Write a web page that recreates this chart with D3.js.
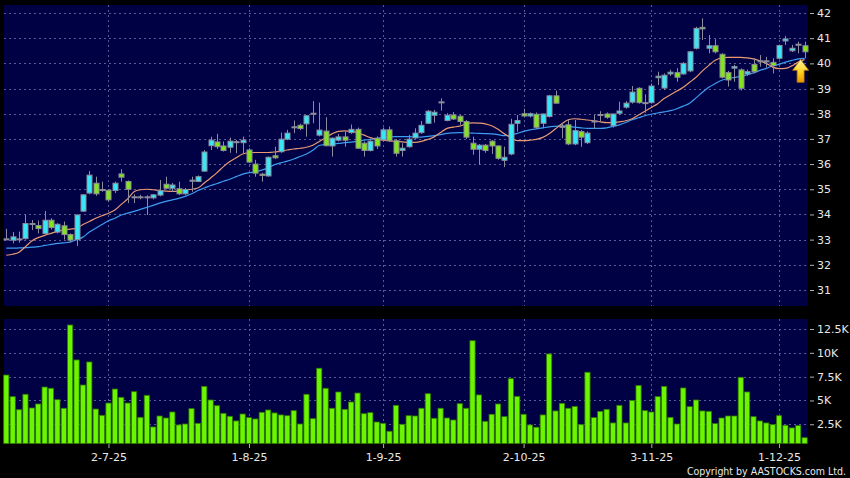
<!DOCTYPE html>
<html>
<head>
<meta charset="utf-8">
<script src="https://cdn.jsdelivr.net/npm/d3@7"></script>
<style>
  html, body { margin: 0; padding: 0; background: #000; }
  svg { display: block; }
</style>
</head>
<body>
<div id="chart-mount"></div>
<script>
// daily candles, oldest first
var OPEN = [33.03,32.98,33.03,33.04,33.64,33.56,33.24,33.77,33.30,33.55,33.20,33.00,34.13,34.85,35.24,34.99,34.96,34.95,35.61,35.31,
  34.70,34.70,34.70,34.66,34.77,35.20,35.04,35.02,34.82,35.36,35.31,35.72,36.73,36.88,36.72,36.67,36.89,36.85,36.56,36.00,
  35.60,35.53,36.33,36.49,36.99,37.48,37.54,37.60,38.02,37.15,37.31,36.72,36.95,37.08,37.25,37.38,36.83,36.54,37.03,36.96,
  37.36,36.93,36.54,36.69,37.04,37.25,37.62,37.94,38.47,37.73,37.95,37.90,37.69,36.83,36.59,36.75,36.91,36.72,36.15,36.40,
  37.62,38.00,37.91,37.98,37.62,37.89,38.71,37.50,37.56,36.80,37.29,36.85,37.71,37.97,37.99,37.52,38.02,38.26,38.46,39.01,
  38.44,38.44,39.43,39.02,39.58,39.63,39.58,39.70,40.60,41.43,40.60,40.70,40.36,39.63,39.81,39.74,39.58,39.96,40.10,40.10,
  40.04,40.20,40.89,40.50,40.76,40.70];
var HIGH = [33.43,33.30,33.32,34.00,33.78,33.76,34.14,33.85,33.65,33.72,33.25,34.00,34.80,35.73,35.50,35.30,35.00,35.30,35.80,35.35,
  34.80,34.78,34.76,34.80,35.37,35.50,35.25,35.30,35.05,35.50,35.55,36.56,37.09,37.20,36.90,37.05,36.96,37.09,36.63,36.17,
  35.65,36.30,36.69,37.25,37.36,37.73,37.60,37.95,38.50,38.44,37.86,37.05,37.20,37.29,37.57,37.45,36.90,36.95,37.10,37.45,
  37.49,37.00,36.83,37.16,37.42,37.71,38.15,38.15,38.61,38.02,38.07,37.95,37.75,37.09,36.80,36.80,36.95,36.75,36.69,37.80,
  37.95,38.20,38.05,38.05,38.00,38.75,38.92,37.62,37.75,37.75,37.35,37.30,37.95,38.10,38.05,38.00,38.48,38.50,39.10,39.05,
  38.77,39.20,39.67,39.60,39.75,39.81,40.05,40.50,41.45,41.79,41.13,40.96,40.40,39.70,39.94,39.80,39.75,40.20,40.33,40.26,
  40.20,40.75,41.09,40.73,40.86,40.86];
var LOW = [33.00,32.85,32.88,33.00,33.38,33.25,33.20,33.40,33.25,33.00,32.90,32.75,34.10,34.80,34.74,34.90,34.50,34.85,35.30,34.45,
  34.45,34.60,33.98,34.60,34.72,35.00,34.90,34.77,34.78,34.90,35.28,35.70,36.56,36.60,36.50,36.45,36.43,36.43,36.05,35.50,
  35.30,35.50,36.20,36.45,36.95,37.23,37.35,37.09,37.62,37.10,36.70,36.30,36.90,36.69,37.20,36.60,36.30,36.50,36.60,36.90,
  36.89,36.30,36.30,36.65,37.00,37.20,37.60,37.65,38.12,37.70,37.75,37.56,37.00,36.37,35.97,36.45,36.40,36.17,35.88,36.35,
  37.29,37.85,37.85,37.40,37.42,37.85,38.40,37.03,36.75,36.75,36.69,36.80,37.40,37.70,37.80,37.45,37.95,38.20,38.40,38.40,
  38.04,38.40,39.14,38.95,39.50,39.27,39.55,39.65,40.55,40.93,40.40,40.40,39.40,39.08,39.27,38.92,39.50,39.60,39.87,39.83,
  39.60,40.15,40.73,40.45,40.40,40.20];
var CLOSE = [33.03,33.11,33.03,33.64,33.64,33.44,33.77,33.48,33.61,33.20,32.98,33.98,34.78,35.56,34.82,34.99,34.58,35.24,35.48,35.00,
  34.70,34.70,34.70,34.78,34.95,35.04,35.17,34.82,34.99,35.36,35.50,36.48,36.95,36.69,36.54,36.91,36.89,36.95,36.08,35.64,
  35.55,36.27,36.25,36.99,37.23,37.48,37.41,37.92,38.02,37.35,36.73,37.03,37.08,36.95,37.38,36.63,36.54,36.91,36.72,37.36,
  36.93,36.43,36.63,36.99,37.23,37.54,38.10,38.06,38.47,37.94,37.79,37.69,37.07,36.59,36.75,36.54,36.72,36.23,36.27,37.58,
  37.73,37.91,38.00,37.46,37.99,38.71,38.42,37.50,36.80,37.33,37.07,37.23,37.71,37.97,37.86,37.99,38.11,38.42,38.86,38.44,
  38.44,39.10,39.49,39.53,39.65,39.45,40.00,40.46,41.39,41.37,40.70,40.46,39.45,39.34,39.87,39.01,39.67,39.67,40.10,40.10,
  39.91,40.71,40.97,40.60,40.76,40.46];
// volume in thousands of shares
var VOLUME_K = [7.67,5.40,4.03,5.65,4.21,4.63,6.41,6.28,5.08,4.18,12.92,9.25,6.62,9.04,4.10,3.44,4.73,6.20,5.33,4.73,
  5.92,3.23,5.54,2.22,3.37,3.16,3.79,2.43,2.53,4.14,2.60,6.48,5.05,4.45,3.65,3.34,2.85,3.58,3.20,3.06,
  3.76,4.00,3.69,3.48,3.40,3.93,2.53,5.65,3.09,8.38,6.28,4.18,5.89,4.07,4.84,5.78,3.61,3.72,2.74,2.60,
  1.77,4.49,2.50,3.40,3.37,4.18,5.71,3.13,4.18,3.16,2.95,4.66,4.18,11.27,5.58,2.81,3.55,4.63,3.30,7.29,
  5.43,3.55,2.43,2.19,3.48,9.88,3.90,4.70,4.18,4.38,2.46,7.96,3.20,3.86,4.07,2.64,4.49,2.64,5.01,6.58,
  3.93,3.79,5.40,6.48,3.23,2.53,6.31,4.35,5.05,3.90,3.86,2.57,3.16,3.37,3.37,7.43,5.89,3.30,2.85,2.64,
  2.46,3.40,2.40,2.12,2.36,1.09];
// moving-average lines as drawn on the chart
var MA10 = [32.38,32.42,32.50,32.72,32.95,33.08,33.17,33.25,33.33,33.38,33.42,33.45,33.60,33.72,33.85,33.95,34.05,34.18,34.40,34.62,
  34.90,34.98,35.00,34.98,34.95,34.93,34.92,34.93,34.96,35.00,35.05,35.25,35.45,35.66,35.90,36.10,36.25,36.40,36.45,36.46,
  36.46,36.46,36.48,36.52,36.56,36.60,36.63,36.67,36.75,36.90,37.05,37.20,37.30,37.32,37.30,37.25,37.15,37.05,36.98,36.95,
  36.92,36.90,36.88,36.86,36.86,36.90,36.98,37.08,37.25,37.42,37.47,37.51,37.60,37.64,37.63,37.60,37.52,37.38,37.20,37.05,
  36.93,36.93,36.95,36.98,37.06,37.20,37.40,37.60,37.76,37.80,37.78,37.75,37.72,37.68,37.65,37.65,37.68,37.72,37.80,37.95,
  38.10,38.25,38.40,38.60,38.75,38.90,39.05,39.25,39.45,39.70,39.92,40.12,40.22,40.24,40.24,40.24,40.22,40.18,40.10,40.00,
  39.85,39.79,39.80,39.90,40.05,40.15];
var MA20 = [32.66,32.66,32.67,32.68,32.70,32.72,32.77,32.81,32.85,32.87,32.90,33.00,33.10,33.30,33.45,33.60,33.75,33.85,33.98,34.05,
  34.12,34.20,34.28,34.36,34.45,34.52,34.58,34.64,34.72,34.82,34.95,35.05,35.15,35.23,35.32,35.40,35.50,35.60,35.66,35.69,
  35.76,35.85,35.98,36.05,36.12,36.20,36.30,36.40,36.55,36.74,36.78,36.80,36.82,36.85,36.87,36.90,36.95,36.98,37.02,37.06,
  37.08,37.09,37.09,37.09,37.08,37.07,37.10,37.13,37.17,37.22,37.24,37.25,37.24,37.23,37.22,37.21,37.20,37.17,37.13,37.15,
  37.22,37.30,37.36,37.40,37.44,37.48,37.50,37.52,37.50,37.47,37.44,37.42,37.42,37.42,37.44,37.50,37.56,37.65,37.76,37.84,
  37.92,37.98,38.03,38.07,38.12,38.20,38.30,38.42,38.63,38.85,39.05,39.20,39.33,39.40,39.44,39.48,39.55,39.62,39.72,39.80,
  39.90,39.96,40.05,40.12,40.18,40.20];

var PRICE_TICKS = [31, 32, 33, 34, 35, 36, 37, 38, 39, 40, 41, 42];
var VOLUME_TICKS = [2.5, 5, 7.5, 10, 12.5];
var VOLUME_TICK_LABELS = ['2.5K', '5K', '7.5K', '10K', '12.5K'];
var DATE_TICK_INDEX = [16, 38, 59, 81, 101, 121];
var DATE_TICK_LABELS = ['2-7-25', '1-8-25', '1-9-25', '2-10-25', '3-11-25', '1-12-25'];

var PANEL_LEFT = 4;
var PANEL_RIGHT = 807.5;
var PRICE_TOP = 5;
var PRICE_BOTTOM = 306;
var VOL_TOP = 319;
var VOL_BOTTOM = 443.5;

var UP_COLOR = '#38e6f6';
var DOWN_COLOR = '#84e41c';
var EDGE_COLOR = '#8c8c9c';
var GRID_COLOR = '#5a5a96';
var TEXT_COLOR = '#e8e8e8';

var $svg = d3.select('#chart-mount').append('svg')
  .attr('width', 850)
  .attr('height', 478)
  .style('background', '#000');

var x = d3.scaleLinear()
  .domain([0, CLOSE.length - 1])
  .range([6.3, 804.6]);
var yPrice = d3.scaleLinear()
  .domain([31, 42])
  .range([290, 13]);
var yVol = d3.scaleLinear()
  .domain([0, 12.5])
  .range([448.1, 329]);

function drawPanels () {
  $svg.append('rect')
    .attr('x', PANEL_LEFT).attr('y', PRICE_TOP)
    .attr('width', PANEL_RIGHT - PANEL_LEFT).attr('height', PRICE_BOTTOM - PRICE_TOP)
    .attr('fill', '#000044');
  $svg.append('rect')
    .attr('x', PANEL_LEFT).attr('y', VOL_TOP)
    .attr('width', PANEL_RIGHT - PANEL_LEFT).attr('height', VOL_BOTTOM - VOL_TOP)
    .attr('fill', '#000044');
}

function drawGrid () {
  var $grid = $svg.append('g')
    .attr('stroke', GRID_COLOR)
    .attr('stroke-width', 1)
    .attr('stroke-dasharray', '2,3');

  $grid.selectAll('line.hp')
    .data(PRICE_TICKS)
    .enter()
      .append('line')
      .attr('class', 'hp')
      .attr('x1', PANEL_LEFT).attr('x2', PANEL_RIGHT)
      .attr('y1', function (d) { return Math.round(yPrice(d)) + 0.5; })
      .attr('y2', function (d) { return Math.round(yPrice(d)) + 0.5; });

  $grid.selectAll('line.hv')
    .data(VOLUME_TICKS)
    .enter()
      .append('line')
      .attr('class', 'hv')
      .attr('x1', PANEL_LEFT).attr('x2', PANEL_RIGHT)
      .attr('y1', function (d) { return Math.round(yVol(d)) + 0.5; })
      .attr('y2', function (d) { return Math.round(yVol(d)) + 0.5; });

  // vertical lines go through both panels
  [[PRICE_TOP, PRICE_BOTTOM], [VOL_TOP, VOL_BOTTOM]].forEach(function (span) {
    $grid.append('g').selectAll('line')
      .data(DATE_TICK_INDEX)
      .enter()
        .append('line')
        .attr('x1', function (d) { return Math.round(x(d)) + 0.5; })
        .attr('x2', function (d) { return Math.round(x(d)) + 0.5; })
        .attr('y1', span[0]).attr('y2', span[1]);
  });
}

function styleAxis ($g) {
  $g.select('.domain').remove();
  $g.selectAll('.tick line').attr('stroke', '#b0b0b0');
  $g.selectAll('.tick text')
    .attr('fill', TEXT_COLOR)
    .style('font-family', 'DejaVu Sans, sans-serif')
    .style('font-size', '11px');
}

function drawAxes () {
  var $priceAxis = $svg.append('g')
    .attr('transform', 'translate(810,0)')
    .call(d3.axisRight(yPrice).tickValues(PRICE_TICKS).tickSize(4).tickPadding(3));
  styleAxis($priceAxis);

  var $volAxis = $svg.append('g')
    .attr('transform', 'translate(810,0)')
    .call(d3.axisRight(yVol)
      .tickValues(VOLUME_TICKS)
      .tickFormat(function (d, i) { return VOLUME_TICK_LABELS[i]; })
      .tickSize(4).tickPadding(3));
  styleAxis($volAxis);

  var $dateAxis = $svg.append('g')
    .attr('transform', 'translate(0,' + (VOL_BOTTOM + 0.5) + ')')
    .call(d3.axisBottom(x)
      .tickValues(DATE_TICK_INDEX)
      .tickFormat(function (d, i) { return DATE_TICK_LABELS[i]; })
      .tickSize(4).tickPadding(5));
  styleAxis($dateAxis);
}

function drawVolume () {
  $svg.append('g')
    .selectAll('rect')
    .data(VOLUME_K)
    .enter()
      .append('rect')
      .attr('x', function (d, i) { return x(i) - 2.6; })
      .attr('width', 5.2)
      .attr('y', function (d) { return Math.min(yVol(d), VOL_BOTTOM - 1); })
      .attr('height', function (d) { return VOL_BOTTOM - Math.min(yVol(d), VOL_BOTTOM - 1); })
      .attr('fill', '#6cf500')
      .attr('stroke', '#2f7a00')
      .attr('stroke-width', 0.8);
}

function drawMovingAverages () {
  var line = function (values) {
    return d3.line()
      .x(function (d, i) { return x(i); })
      .y(function (d) { return yPrice(d); })
      .curve(d3.curveMonotoneX)(values);
  };
  $svg.append('path')
    .attr('d', line(MA20))
    .attr('fill', 'none')
    .attr('stroke', '#3c9cf0')
    .attr('stroke-width', 1.2);
  $svg.append('path')
    .attr('d', line(MA10))
    .attr('fill', 'none')
    .attr('stroke', '#e89a72')
    .attr('stroke-width', 1.2);
}

function drawCandles () {
  var $candles = $svg.append('g')
    .selectAll('g')
    .data(CLOSE)
    .enter()
      .append('g');

  $candles.append('line')
    .attr('x1', function (d, i) { return Math.round(x(i)) + 0.5; })
    .attr('x2', function (d, i) { return Math.round(x(i)) + 0.5; })
    .attr('y1', function (d, i) { return yPrice(HIGH[i]); })
    .attr('y2', function (d, i) { return yPrice(LOW[i]); })
    .attr('stroke', EDGE_COLOR)
    .attr('stroke-width', 1);

  $candles.append('rect')
    .attr('x', function (d, i) { return Math.round(x(i)) - 2; })
    .attr('width', 5)
    .attr('y', function (d, i) { return yPrice(Math.max(OPEN[i], d)); })
    .attr('height', function (d, i) {
      return Math.max(1, Math.abs(yPrice(OPEN[i]) - yPrice(d)));
    })
    .attr('fill', function (d, i) {
      if (d > OPEN[i]) {
        return UP_COLOR;
      } else if (d < OPEN[i]) {
        return DOWN_COLOR;
      }
      return EDGE_COLOR;
    })
    .attr('stroke', EDGE_COLOR)
    .attr('stroke-width', 1);
}

function drawArrow () {
  var defs = $svg.append('defs');
  var grad = defs.append('linearGradient')
    .attr('id', 'arrow-fill')
    .attr('x1', 0).attr('y1', 0).attr('x2', 0).attr('y2', 1);
  grad.append('stop').attr('offset', '0%').attr('stop-color', '#fff6a8');
  grad.append('stop').attr('offset', '55%').attr('stop-color', '#ffd21e');
  grad.append('stop').attr('offset', '100%').attr('stop-color', '#e89800');

  var cx = x(CLOSE.length - 1) - 4;
  var top = yPrice(MA20[MA20.length - 1]) + 1;
  $svg.append('path')
    .attr('d', 'M' + cx + ',' + top +
      'l8,11 h-4.5 v12 h-7 v-12 h-4.5 z')
    .attr('fill', 'url(#arrow-fill)')
    .attr('stroke', '#b87400')
    .attr('stroke-width', 0.8);
}

function drawCopyright () {
  $svg.append('text')
    .attr('x', 846)
    .attr('y', 475)
    .attr('text-anchor', 'end')
    .attr('fill', TEXT_COLOR)
    .style('font-family', 'DejaVu Sans Condensed, DejaVu Sans, sans-serif')
    .style('font-size', '10.5px')
    .text('Copyright by AASTOCKS.com Ltd.');
}

drawPanels();
drawGrid();
drawVolume();
drawMovingAverages();
drawCandles();
drawArrow();
drawAxes();
drawCopyright();
</script>
</body>
</html>
